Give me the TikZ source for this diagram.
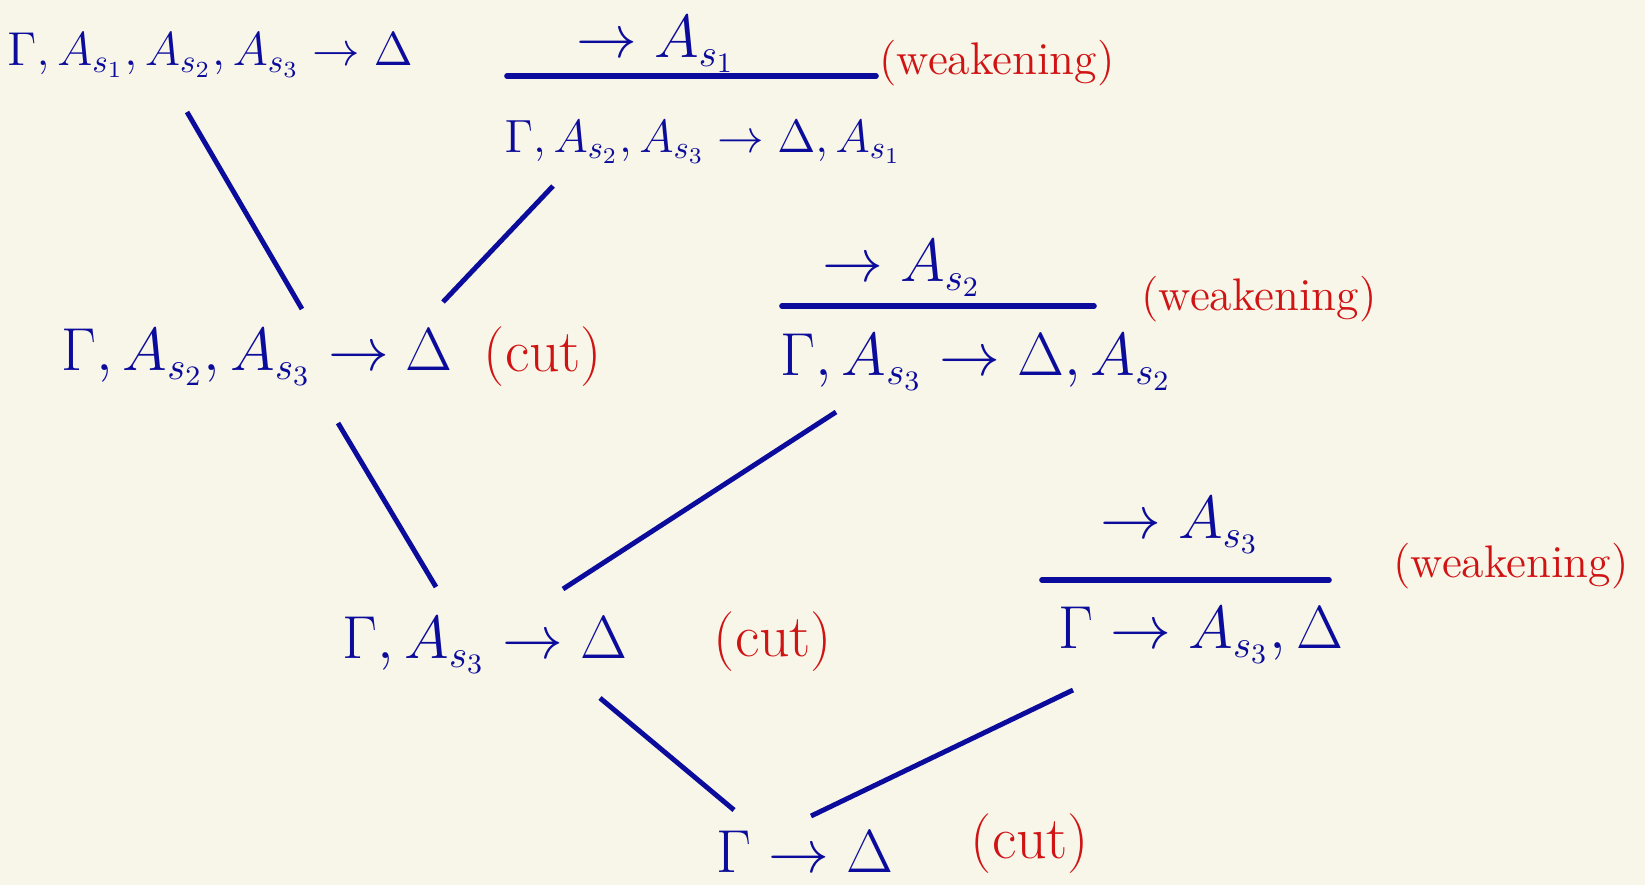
\documentclass[tikz,border=0pt]{standalone}
\definecolor{inkblue}{HTML}{0C0C9C}
\definecolor{inkred}{HTML}{D01414}
\definecolor{paper}{HTML}{F8F5E9}
\usepackage{tikz}
\usetikzlibrary{calc}
\usepackage{amsmath,amssymb}

\tikzset{
  seq/.style={text=inkblue,font=\fontsize{16}{19}\selectfont,inner sep=2pt},
  seqsmall/.style={seq,font=\fontsize{14.4}{17}\selectfont},
  cutlabel/.style={text=inkred,font=\fontsize{17}{20}\selectfont,inner sep=1pt},
  weaklabel/.style={text=inkred,font=\fontsize{13}{16}\selectfont,inner sep=1pt},
  link/.style={draw=inkblue,line width=1.4pt},
  bar/.style={draw=inkblue,line width=1.6pt,line cap=round}
}

\begin{document}
\begin{tikzpicture}
    \fill[paper] (0,0) rectangle (16.45,-8.85);
    \useasboundingbox (0,0) rectangle (16.45,-8.85);
    % top row
    \node[seqsmall] (s0) at (2.10,-0.55) {\scalebox{0.94}{$\Gamma, A_{s_1}, A_{s_2}, A_{s_3} \to \Delta$}};
    \node[seq] (w1p) at (6.56,-0.44) {$\to A_{s_1}$};
    \coordinate (b1l) at (5.07,-0.76);
    \coordinate (b1r) at (8.76,-0.76);
    \draw[bar] (b1l) -- (b1r);
    \node[seqsmall] (w1c) at (7.03,-1.42) {\scalebox{0.92}{$\Gamma, A_{s_2}, A_{s_3} \to \Delta, A_{s_1}$}};
    \node[weaklabel] (w1r) at (9.97,-0.63) {(weakening)};
    % first cut
    \node[seq] (s1) at (2.57,-3.57) {$\Gamma, A_{s_2}, A_{s_3} \to \Delta$};
    \node[cutlabel] (c1) at (5.43,-3.57) {(cut)};
    \node[seq] (w2p) at (9.02,-2.68) {$\to A_{s_2}$};
    \coordinate (b2l) at (7.82,-3.06);
    \coordinate (b2r) at (10.94,-3.06);
    \draw[bar] (b2l) -- (b2r);
    \node[seq] (w2c) at (9.76,-3.62) {$\Gamma, A_{s_3} \to \Delta, A_{s_2}$};
    \node[weaklabel] (w2r) at (12.59,-2.99) {(weakening)};
    % second cut
    \node[seq] (s2) at (4.85,-6.45) {$\Gamma, A_{s_3} \to \Delta$};
    \node[cutlabel] (c2) at (7.73,-6.42) {(cut)};
    \node[seq] (w3p) at (11.80,-5.25) {$\to A_{s_3}$};
    \coordinate (b3l) at (10.42,-5.80);
    \coordinate (b3r) at (13.29,-5.80);
    \draw[bar] (b3l) -- (b3r);
    \node[seq] (w3c) at (12.01,-6.35) {$\Gamma \to A_{s_3}, \Delta$};
    \node[weaklabel] (w3r) at (15.11,-5.66) {(weakening)};
    % last cut
    \node[seq] (s3) at (8.05,-8.52) {$\Gamma \to \Delta$};
    \node[cutlabel] (c3) at (10.30,-8.44) {(cut)};
    % tree edges
    \draw[link] ([shift={(-0.23,-0.57)}]s0.center) -- ([shift={(0.45,0.48)}]s1.center);
    \draw[link] ([shift={(-1.50,-0.44)}]w1c.center) -- ([shift={(1.86,0.55)}]s1.center);
    \draw[link] ([shift={(0.81,-0.66)}]s1.center) -- ([shift={(-0.49,0.58)}]s2.center);
    \draw[link] ([shift={(-1.40,-0.50)}]w2c.center) -- ([shift={(0.78,0.56)}]s2.center);
    \draw[link] ([shift={(1.15,-0.53)}]s2.center) -- ([shift={(-0.71,0.42)}]s3.center);
    \draw[link] ([shift={(-1.28,-0.55)}]w3c.center) -- ([shift={(0.06,0.36)}]s3.center);
\end{tikzpicture}
\end{document}
